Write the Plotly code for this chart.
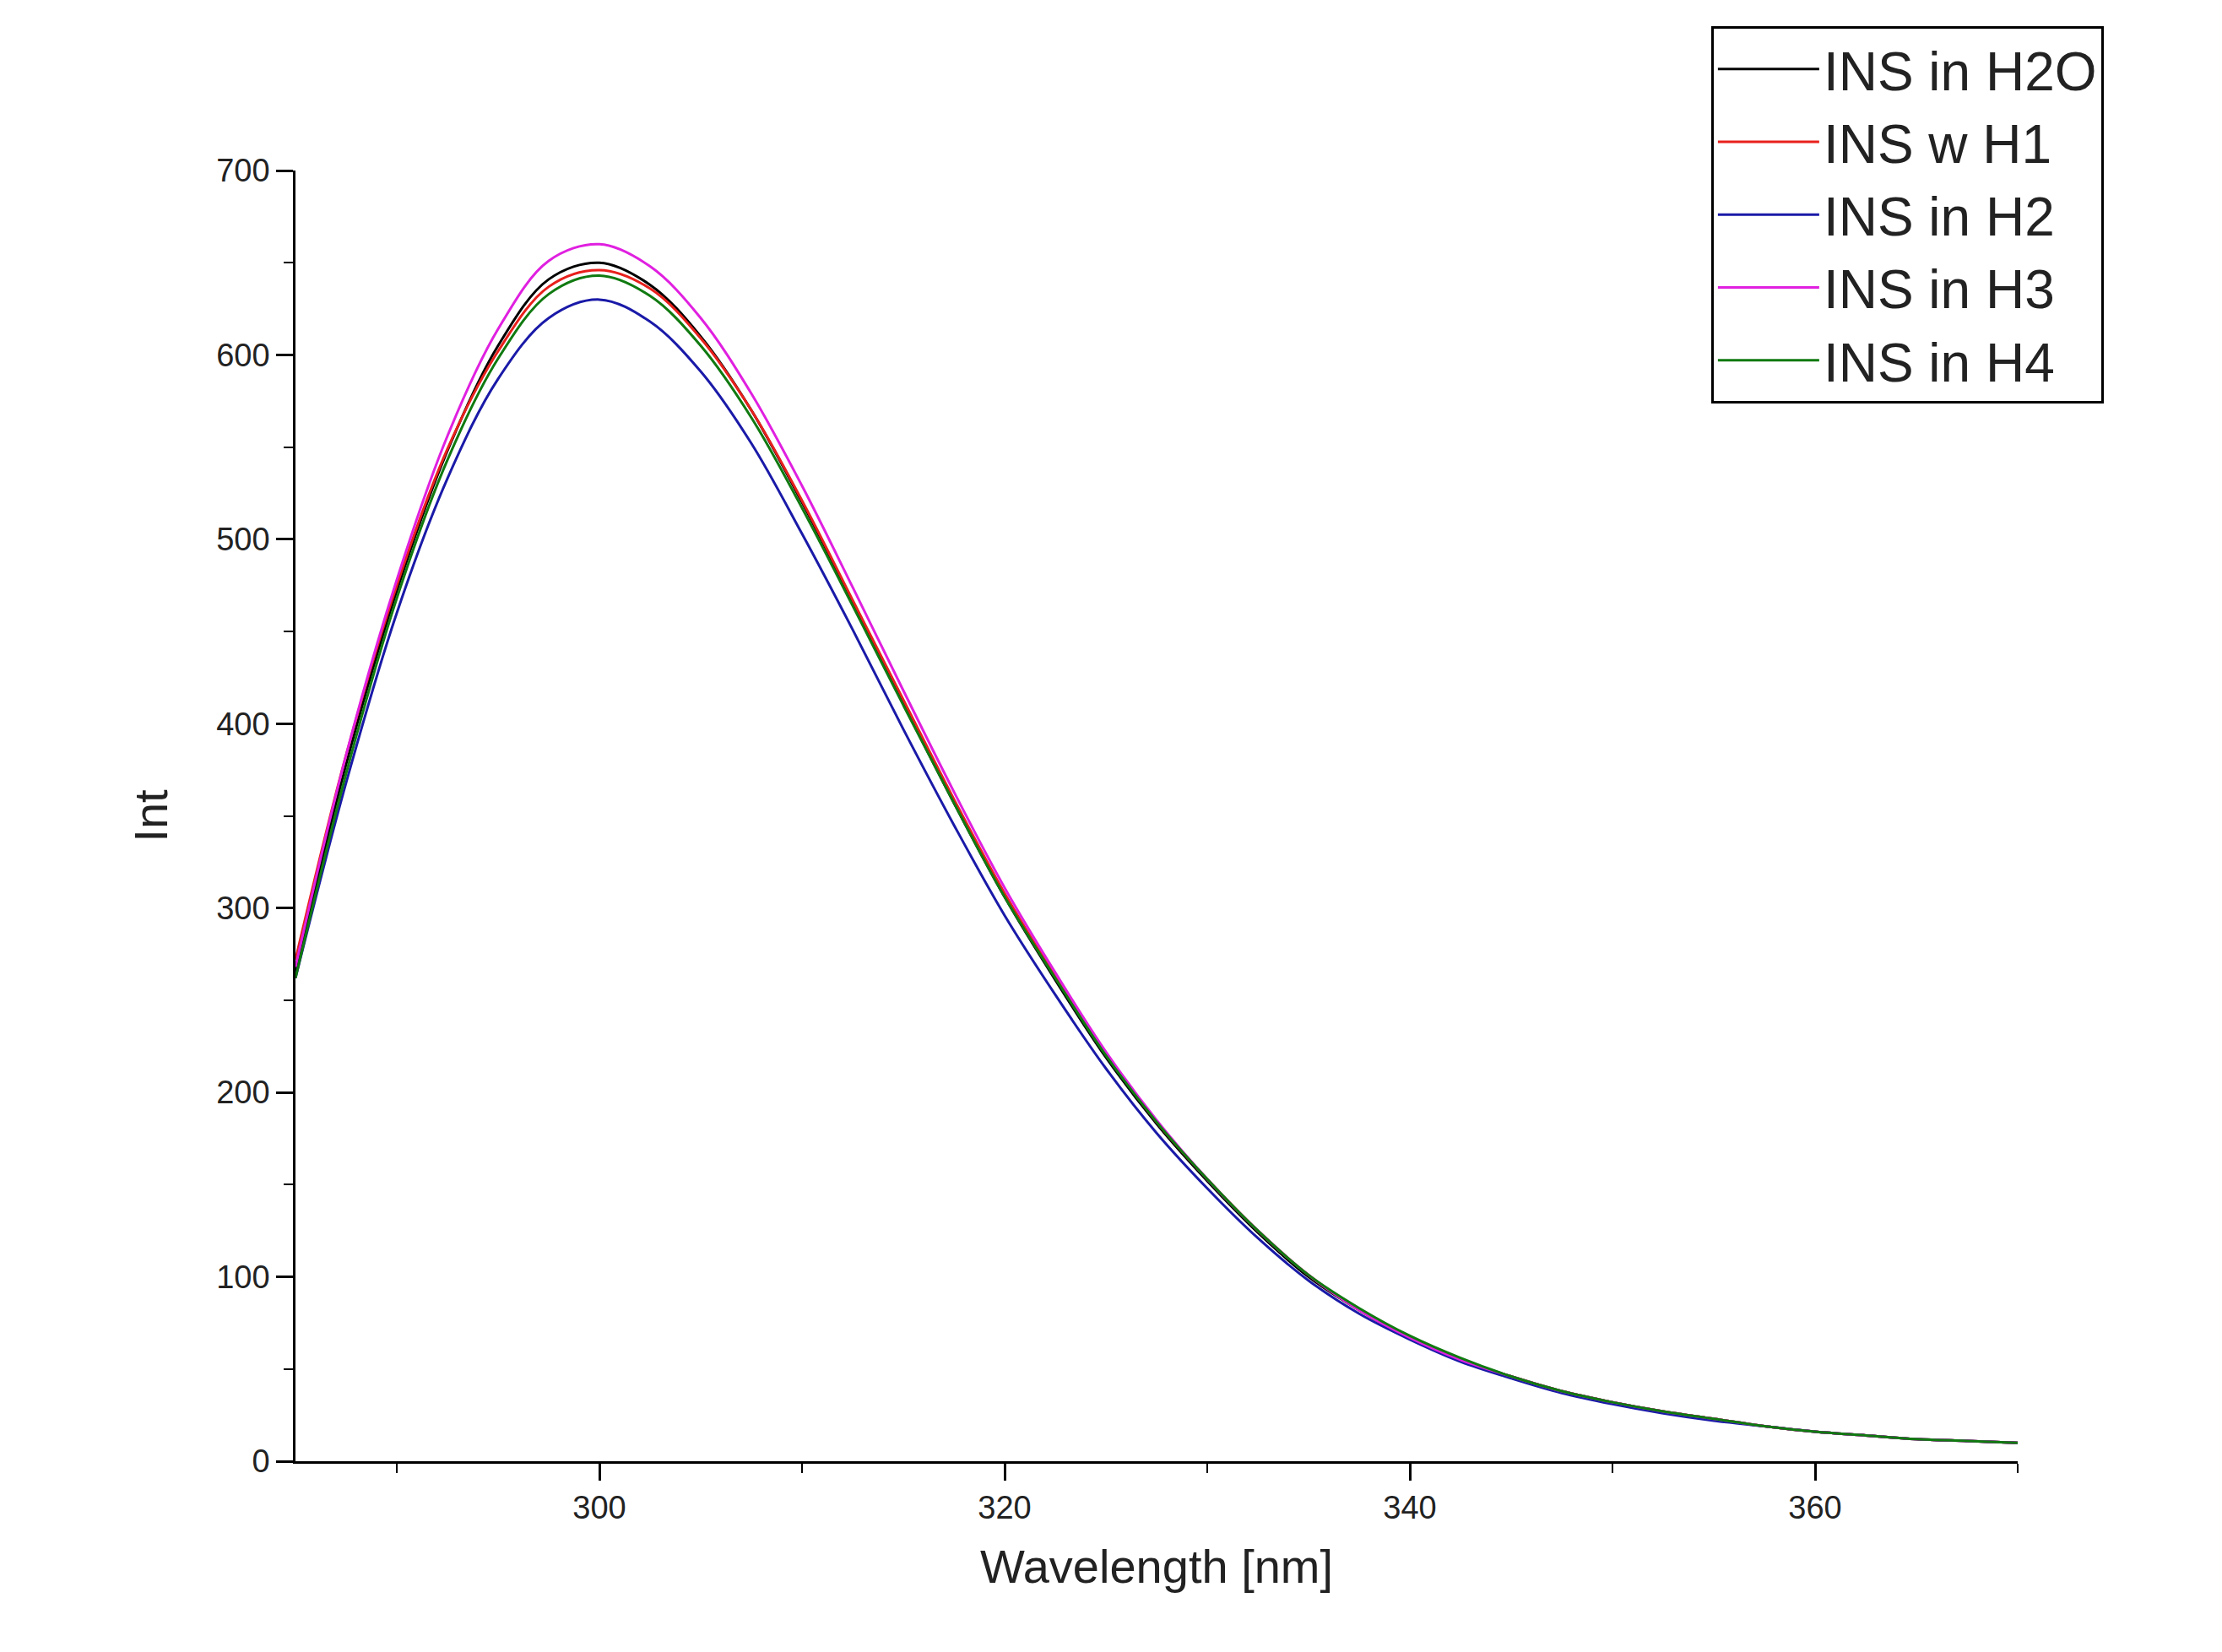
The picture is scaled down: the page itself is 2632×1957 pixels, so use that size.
import plotly.graph_objects as go

wavelength = [285, 287.5, 290, 292.5, 295, 297.5, 300, 302.5, 305, 307.5, 310, 312.5, 315, 317.5, 320, 322.5, 325, 327.5, 330, 332.5, 335, 337.5, 340, 342.5, 345, 347.5, 350, 352.5, 355, 357.5, 360, 362.5, 365, 367.5, 370]

ins_h2o = [265, 378, 472, 548, 605, 641, 650, 638, 610, 570, 520, 466, 411, 357, 306, 261, 219, 183, 152, 124, 100, 82, 67, 55, 46, 38, 32, 27, 23, 19, 16, 14, 12, 11, 10]
ins_h1 = [272, 383, 475, 549, 602, 637, 646, 636, 609, 570, 521, 467, 413, 359, 308, 263, 221, 184, 153, 125, 101, 82, 67, 55, 46, 38, 32, 27, 23, 19, 16, 14, 12, 11, 10]
ins_h2 = [262, 368, 460, 533, 587, 620, 630, 618, 591, 552, 503, 451, 397, 345, 296, 253, 213, 178, 148, 121, 98, 80, 66, 54, 45, 37, 31, 26, 22, 19, 16, 14, 12, 11, 10]
ins_h3 = [268, 383, 478, 556, 614, 651, 660, 648, 620, 579, 529, 474, 418, 363, 311, 265, 222, 185, 153, 125, 101, 82, 67, 55, 46, 38, 32, 27, 23, 19, 16, 14, 12, 11, 10]
ins_h4 = [262, 373, 468, 543, 598, 633, 643, 632, 605, 566, 517, 464, 410, 357, 306, 262, 220, 184, 153, 125, 101, 83, 68, 56, 46, 38, 32, 27, 23, 19, 16, 14, 12, 11, 10]

series = [("INS in H2O", ins_h2o, "#000000"),
          ("INS w H1", ins_h1, "#e8201c"),
          ("INS in H2", ins_h2, "#1a1aa8"),
          ("INS in H3", ins_h3, "#e020e0"),
          ("INS in H4", ins_h4, "#107a10")]

fig = go.Figure()
for name, ys, col in series:
    fig.add_trace(go.Scatter(x=wavelength, y=ys, name=name, mode="lines",
                             line=dict(color=col, width=3, shape="spline")))

font = "Liberation Sans, Arial, sans-serif"
fig.update_layout(
    width=2632, height=1957, paper_bgcolor="white", plot_bgcolor="white",
    margin=dict(l=342, r=250, t=194, b=234),
    font=dict(family=font, color="#222"),
    legend=dict(x=0.822, y=1.112, xanchor="left", yanchor="top",
                bordercolor="black", borderwidth=3, bgcolor="white",
                font=dict(size=64, family=font), itemwidth=120, tracegroupgap=0),
    xaxis=dict(range=[285, 370], tickvals=[300, 320, 340, 360], showgrid=False, zeroline=False,
               showline=True, linecolor="black", linewidth=2.5, ticks="outside", ticklen=20,
               tickwidth=2.5, tickcolor="black", tickfont=dict(size=38),
               minor=dict(dtick=10, tick0=0, ticks="outside", ticklen=11, tickwidth=2, tickcolor="black"),
               title=dict(text="Wavelength [nm]", font=dict(size=56), standoff=30)),
    yaxis=dict(range=[0, 700], dtick=100, showgrid=False, zeroline=False,
               showline=True, linecolor="black", linewidth=2.5, ticks="outside", ticklen=20,
               tickwidth=2.5, tickcolor="black", tickfont=dict(size=38),
               minor=dict(dtick=50, ticks="outside", ticklen=11, tickwidth=2, tickcolor="black"),
               title=dict(text="Int", font=dict(size=56), standoff=40)),
)
fig.write_html("out.html")
